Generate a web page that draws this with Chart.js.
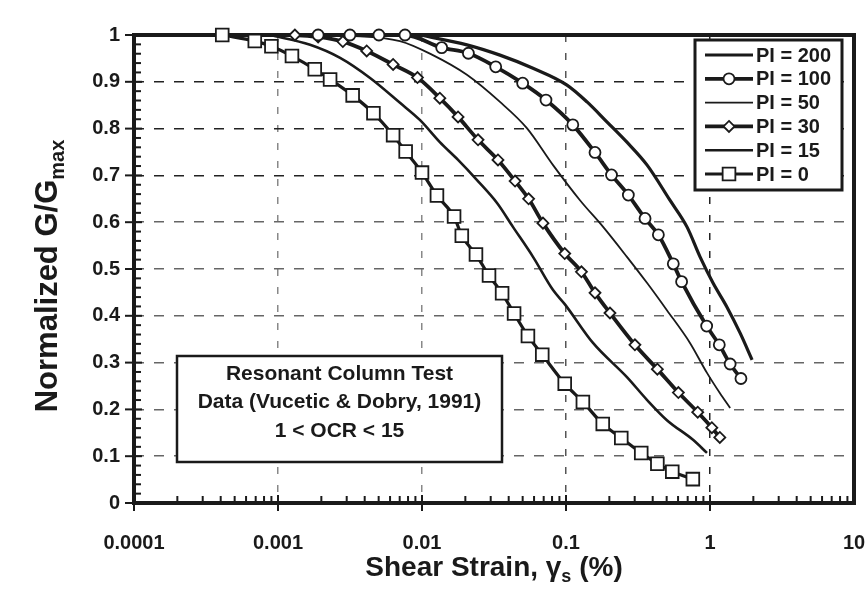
<!DOCTYPE html>
<html>
<head>
<meta charset="utf-8">
<script src="https://cdn.jsdelivr.net/npm/chart.js@4.4.1/dist/chart.umd.min.js"></script>
<style>
  html, body { margin: 0; padding: 0; background: #fff; }
</style>
</head>
<body>
<canvas id="modulusChart" width="866" height="593"></canvas>
<script>
// Vucetic & Dobry (1991) modulus reduction curves
const seriesLabels = ["PI = 200", "PI = 100", "PI = 50", "PI = 30", "PI = 15", "PI = 0"];

const pi200Strain = [0.0097, 0.0205, 0.0348, 0.059, 0.1016, 0.14, 0.193, 0.265, 0.366, 0.527, 0.692, 0.853, 1.05, 1.31, 1.62, 1.96];
const pi200Ratio = [1.0, 0.979, 0.957, 0.929, 0.893, 0.857, 0.814, 0.771, 0.722, 0.647, 0.590, 0.526, 0.470, 0.419, 0.363, 0.306];

const pi100Strain = [0.0019, 0.00316, 0.00502, 0.00762, 0.0137, 0.021, 0.0325, 0.05, 0.0726, 0.1115, 0.159, 0.207, 0.271, 0.354, 0.438, 0.556, 0.635, 0.948, 1.16, 1.38, 1.64];
const pi100Ratio = [1.0, 1.0, 1.0, 1.0, 0.973, 0.961, 0.932, 0.897, 0.861, 0.808, 0.749, 0.701, 0.658, 0.608, 0.573, 0.511, 0.473, 0.378, 0.338, 0.297, 0.266];

const pi50Strain = [0.0027, 0.00703, 0.0119, 0.0205, 0.0348, 0.0535, 0.0813, 0.125, 0.181, 0.265, 0.366, 0.502, 0.726, 0.953, 1.17, 1.38];
const pi50Ratio = [1.0, 0.987, 0.957, 0.915, 0.857, 0.801, 0.722, 0.647, 0.590, 0.526, 0.470, 0.412, 0.342, 0.278, 0.235, 0.203];

const pi30Strain = [0.00131, 0.0019, 0.00282, 0.00413, 0.0063, 0.0093, 0.0133, 0.0178, 0.0245, 0.0337, 0.0443, 0.055, 0.0692, 0.098, 0.128, 0.159, 0.202, 0.301, 0.431, 0.603, 0.822, 1.03, 1.17];
const pi30Ratio = [1.0, 0.996, 0.986, 0.966, 0.937, 0.909, 0.865, 0.825, 0.776, 0.733, 0.688, 0.650, 0.598, 0.533, 0.494, 0.449, 0.406, 0.338, 0.286, 0.236, 0.194, 0.161, 0.140];

const pi15Strain = [0.00088, 0.00167, 0.0027, 0.00436, 0.00703, 0.0097, 0.0133, 0.0178, 0.0241, 0.0332, 0.0428, 0.059, 0.0813, 0.098, 0.154, 0.265, 0.366, 0.502, 0.762, 0.953];
const pi15Ratio = [1.0, 0.979, 0.951, 0.908, 0.855, 0.818, 0.771, 0.733, 0.690, 0.641, 0.590, 0.526, 0.455, 0.425, 0.342, 0.269, 0.220, 0.177, 0.135, 0.107];

const pi0Strain = [0.00041, 0.00069, 0.0009, 0.00125, 0.0018, 0.0023, 0.0033, 0.0046, 0.0063, 0.0077, 0.01, 0.0127, 0.0167, 0.0189, 0.0237, 0.0292, 0.036, 0.0436, 0.0544, 0.0684, 0.098, 0.131, 0.18, 0.242, 0.333, 0.431, 0.547, 0.76];
const pi0Ratio = [1.0, 0.987, 0.976, 0.955, 0.927, 0.905, 0.871, 0.833, 0.786, 0.751, 0.706, 0.657, 0.612, 0.571, 0.531, 0.486, 0.448, 0.405, 0.357, 0.317, 0.255, 0.216, 0.169, 0.139, 0.107, 0.084, 0.067, 0.051];

const xTickLabels = ["0.0001", "0.001", "0.01", "0.1", "1", "10"];
const yTickLabels = ["0", "0.1", "0.2", "0.3", "0.4", "0.5", "0.6", "0.7", "0.8", "0.9", "1"];
const noteLines = ["Resonant Column Test", "Data (Vucetic & Dobry, 1991)", "1 < OCR < 15"];

const FONT = "'Liberation Sans', Arial, sans-serif";
const INK = "#1a1a1a";
const CLEAR = "rgba(0,0,0,0)";

function points(xs, ys) {
  return xs.map((x, i) => ({ x: x, y: ys[i] }));
}

function isDecade(v) {
  const e = Math.log10(v);
  return Math.abs(e - Math.round(e)) < 1e-6;
}

function drawMarker(ctx, style, x, y, r) {
  ctx.beginPath();
  if (style === "circle") {
    ctx.arc(x, y, r, 0, Math.PI * 2);
  } else if (style === "rectRot") {
    ctx.moveTo(x, y - r);
    ctx.lineTo(x + r, y);
    ctx.lineTo(x, y + r);
    ctx.lineTo(x - r, y);
    ctx.closePath();
  } else {
    const s = r * Math.SQRT1_2;
    ctx.rect(x - s, y - s, 2 * s, 2 * s);
  }
  ctx.fill();
  ctx.stroke();
}

// frame + inward minor ticks, drawn under the curves
const framePlugin = {
  id: "frame",
  beforeDatasetsDraw(chart) {
    const ctx = chart.ctx;
    const a = chart.chartArea;
    const xs = chart.scales.x;
    const ys = chart.scales.y;
    ctx.save();
    ctx.strokeStyle = INK;
    ctx.lineWidth = 2;
    // y ticks every 0.02, long ones at 0.1
    for (let i = 0; i <= 50; i++) {
      const py = ys.getPixelForValue(i * 0.02);
      ctx.beginPath();
      if (i % 5 === 0) {
        ctx.moveTo(a.left - 9, py);
        ctx.lineTo(a.left + 8, py);
      } else {
        ctx.moveTo(a.left, py);
        ctx.lineTo(a.left + 7, py);
      }
      ctx.stroke();
    }
    // x ticks at 1..9 of every decade
    for (let d = -4; d <= 0; d++) {
      for (let k = 1; k <= 9; k++) {
        const px = xs.getPixelForValue(k * Math.pow(10, d));
        ctx.beginPath();
        if (k === 1) {
          ctx.moveTo(px, a.bottom + 8);
          ctx.lineTo(px, a.bottom - 8);
        } else {
          ctx.moveTo(px, a.bottom);
          ctx.lineTo(px, a.bottom - 7);
        }
        ctx.stroke();
      }
    }
    ctx.lineWidth = 4;
    ctx.strokeRect(a.left, a.top, a.right - a.left, a.bottom - a.top);
    ctx.restore();
  }
};

function drawParts(ctx, parts, cx, baseY) {
  let total = 0;
  parts.forEach(p => { ctx.font = p[1]; total += ctx.measureText(p[0]).width; });
  let x = cx - total / 2;
  ctx.fillStyle = INK;
  ctx.textAlign = "left";
  ctx.textBaseline = "alphabetic";
  parts.forEach(p => {
    ctx.font = p[1];
    ctx.fillText(p[0], x, baseY + p[2]);
    x += ctx.measureText(p[0]).width;
  });
}

// legend box, note box and axis titles
const decorPlugin = {
  id: "decor",
  afterDatasetsDraw(chart) {
    const ctx = chart.ctx;
    const a = chart.chartArea;
    ctx.save();

    // legend
    const lx = 695, ly = 40, lw = 147, lh = 150;
    ctx.fillStyle = "#fff";
    ctx.fillRect(lx, ly, lw, lh);
    ctx.strokeStyle = INK;
    ctx.lineWidth = 3;
    ctx.strokeRect(lx, ly, lw, lh);
    chart.data.datasets.forEach((ds, i) => {
      const y = ly + 15 + i * 23.8;
      ctx.strokeStyle = INK;
      ctx.lineWidth = ds.borderWidth;
      ctx.beginPath();
      ctx.moveTo(lx + 10, y);
      ctx.lineTo(lx + 58, y);
      ctx.stroke();
      if (ds.pointRadius > 0) {
        ctx.fillStyle = "#fff";
        ctx.lineWidth = ds.pointBorderWidth;
        drawMarker(ctx, ds.pointStyle, lx + 34, y, ds.pointRadius);
      }
      ctx.fillStyle = INK;
      ctx.font = "bold 20px " + FONT;
      ctx.textAlign = "left";
      ctx.textBaseline = "middle";
      ctx.fillText(ds.label, lx + 61, y + 1);
    });

    // note box
    const nx = 177, ny = 356, nw = 325, nh = 106;
    ctx.fillStyle = "#fff";
    ctx.fillRect(nx, ny, nw, nh);
    ctx.strokeStyle = INK;
    ctx.lineWidth = 2.5;
    ctx.strokeRect(nx, ny, nw, nh);
    ctx.fillStyle = INK;
    ctx.font = "bold 21px " + FONT;
    ctx.textAlign = "center";
    ctx.textBaseline = "middle";
    noteLines.forEach((t, i) => ctx.fillText(t, nx + nw / 2, ny + 18 + i * 28.5));

    // x title with subscript
    const cx = (a.left + a.right) / 2;
    const big = "bold 28px " + FONT, small = "bold 18px " + FONT;
    drawParts(ctx, [["Shear Strain, \u03b3", big, 0], ["s", small, 6], [" (%)", big, 0]], cx, 576);

    // y title, rotated
    const bigY = "bold 31px " + FONT, smallY = "bold 20px " + FONT;
    ctx.translate(46, 276);
    ctx.rotate(-Math.PI / 2);
    drawParts(ctx, [["Normalized G/G", bigY, 0], ["max", smallY, 7]], 0, 11);
    ctx.restore();
  }
};

const ctx = document.getElementById("modulusChart").getContext("2d");
const modulusChart = new Chart(ctx, {
  type: "line",
  data: {
    datasets: [
      { label: seriesLabels[0], data: points(pi200Strain, pi200Ratio), borderColor: INK, borderWidth: 3.2, pointRadius: 0 },
      { label: seriesLabels[1], data: points(pi100Strain, pi100Ratio), borderColor: INK, borderWidth: 3.8,
        pointStyle: "circle", pointRadius: 5.5, pointBorderWidth: 1.8, pointBackgroundColor: "#fff", pointBorderColor: INK },
      { label: seriesLabels[2], data: points(pi50Strain, pi50Ratio), borderColor: INK, borderWidth: 1.8, pointRadius: 0 },
      { label: seriesLabels[3], data: points(pi30Strain, pi30Ratio), borderColor: INK, borderWidth: 3.8,
        pointStyle: "rectRot", pointRadius: 5.5, pointBorderWidth: 1.8, pointBackgroundColor: "#fff", pointBorderColor: INK },
      { label: seriesLabels[4], data: points(pi15Strain, pi15Ratio), borderColor: INK, borderWidth: 2.6, pointRadius: 0 },
      { label: seriesLabels[5], data: points(pi0Strain, pi0Ratio), borderColor: INK, borderWidth: 3.2,
        pointStyle: "rect", pointRadius: 9, pointBorderWidth: 1.8, pointBackgroundColor: "#fff", pointBorderColor: INK }
    ]
  },
  options: {
    responsive: false,
    animation: false,
    clip: 10,
    cubicInterpolationMode: "monotone",
    layout: { padding: { top: 35, right: 12, left: 0, bottom: 0 } },
    plugins: { legend: { display: false }, tooltip: { enabled: false } },
    scales: {
      x: {
        type: "logarithmic",
        min: 0.0001,
        max: 10,
        afterFit: s => { s.height = 90; },
        border: { display: false, dash: [7, 11] },
        grid: {
          drawTicks: true,
          tickLength: 28,
          tickColor: CLEAR,
          lineWidth: 1.5,
          color: c => {
            const v = c.tick ? c.tick.value : 0;
            if (!isDecade(v) || v < 0.0002 || v > 5) return CLEAR;
            if (v > 0.5) return "#222";
            return v > 0.05 ? "#555" : "#888";
          }
        },
        ticks: {
          autoSkip: false,
          maxRotation: 0,
          padding: 0,
          color: INK,
          font: { family: FONT, size: 20, weight: "bold" },
          callback: v => isDecade(v) ? xTickLabels[Math.round(Math.log10(v)) + 4] : ""
        }
      },
      y: {
        min: 0,
        max: 1,
        afterFit: s => { s.width = 134; },
        border: { display: false, dash: [10, 10] },
        grid: {
          drawTicks: false,
          lineWidth: 1.5,
          color: c => {
            if (c.index <= 0 || c.index >= 10) return CLEAR;
            return c.index >= 7 ? "#222" : "#666";
          }
        },
        ticks: {
          stepSize: 0.1,
          padding: 14,
          color: INK,
          font: { family: FONT, size: 20, weight: "bold" },
          callback: (v, i) => yTickLabels[i]
        }
      }
    }
  },
  plugins: [framePlugin, decorPlugin]
});
</script>
</body>
</html>
